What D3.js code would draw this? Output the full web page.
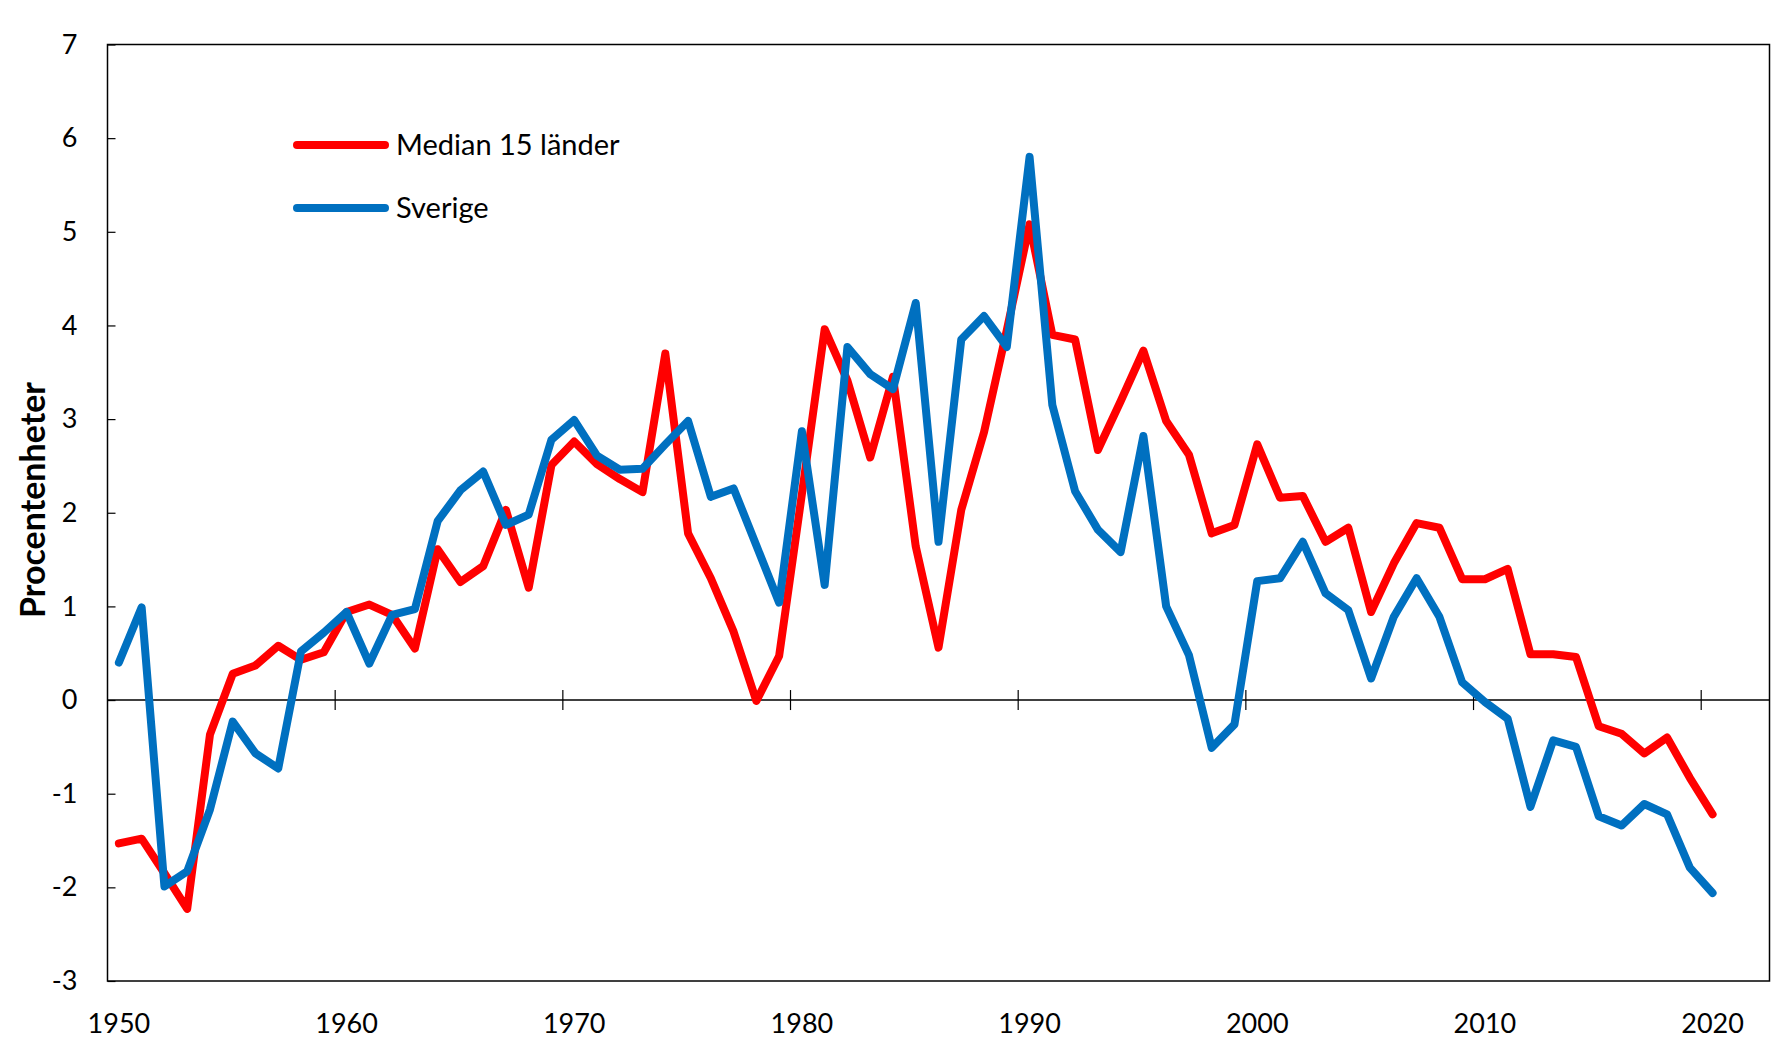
<!DOCTYPE html>
<html>
<head>
<meta charset="utf-8">
<script src="https://cdn.jsdelivr.net/npm/d3@7"></script>
<style>
  body { margin: 0; background: #fff; }
  text { font-family: Lato, "Open Sans", sans-serif; fill: #000; }
</style>
</head>
<body>
<svg id="chart" width="1782" height="1056"></svg>
<script>
  // kategorier 1950-2022 (de två sista är tomma)
  var years = d3.range(1950, 2023);
  var labelYears = [1950, 1960, 1970, 1980, 1990, 2000, 2010, 2020];
  var yTicks = [-3, -2, -1, 0, 1, 2, 3, 4, 5, 6, 7];

  var median = [-1.53, -1.48, -1.85, -2.23, -0.37, 0.28, 0.37, 0.58, 0.43, 0.51,
    0.94, 1.02, 0.91, 0.55, 1.61, 1.26, 1.43, 2.03, 1.20, 2.51,
    2.76, 2.52, 2.36, 2.22, 3.70, 1.78, 1.30, 0.73, -0.01, 0.47,
    2.20, 3.96, 3.41, 2.59, 3.45, 1.64, 0.56, 2.03, 2.86, 3.95,
    5.08, 3.90, 3.85, 2.67, 3.19, 3.73, 2.98, 2.62, 1.78, 1.87,
    2.73, 2.16, 2.18, 1.69, 1.84, 0.94, 1.46, 1.89, 1.84, 1.29,
    1.29, 1.40, 0.49, 0.49, 0.46, -0.28, -0.36, -0.57, -0.40, -0.83,
    -1.22];
  var sverige = [0.40, 0.99, -1.99, -1.83, -1.17, -0.23, -0.57, -0.73, 0.52, 0.72,
    0.94, 0.39, 0.91, 0.97, 1.91, 2.24, 2.44, 1.87, 1.98, 2.78,
    2.99, 2.61, 2.46, 2.47, 2.73, 2.98, 2.17, 2.26, 1.65, 1.04,
    2.87, 1.23, 3.77, 3.48, 3.32, 4.24, 1.69, 3.85, 4.10, 3.77,
    5.80, 3.15, 2.23, 1.82, 1.58, 2.82, 1.00, 0.48, -0.51, -0.26,
    1.27, 1.30, 1.69, 1.14, 0.96, 0.23, 0.89, 1.30, 0.89, 0.19,
    -0.02, -0.20, -1.14, -0.43, -0.50, -1.24, -1.34, -1.11, -1.22, -1.79,
    -2.06];

  var series = [
    {name: "Median 15 länder", values: median, color: "#ff0000"},
    {name: "Sverige", values: sverige, color: "#0070c0"}
  ];

  var svg = d3.select("#chart");
  var plotLeft = 107.5, plotRight = 1769.5, plotTop = 44.5, plotBottom = 981;

  var x = d3.scaleBand().domain(years).range([plotLeft, plotRight]).padding(0);
  var y = d3.scaleLinear().domain([-3, 7]).range([plotBottom, plotTop]);
  var bw = x.bandwidth();

  // y-axel med ticks inåt, vanligt bindestreck som minus
  var yAxis = d3.axisLeft(y).tickValues(yTicks).tickSize(-8).tickPadding(30)
    .tickFormat(function(d) { return String(d); });
  var gy = svg.append("g").attr("transform", "translate(" + plotLeft + ",0)").call(yAxis);
  gy.select(".domain").remove();
  gy.selectAll(".tick line").attr("stroke", "#000").attr("stroke-width", 1.2);
  gy.selectAll("text").attr("font-size", "27px").attr("font-family", "Lato").attr("fill", "#000");

  // ram
  svg.append("rect")
    .attr("x", plotLeft).attr("y", plotTop)
    .attr("width", plotRight - plotLeft).attr("height", plotBottom - plotTop)
    .attr("fill", "none").attr("stroke", "#000").attr("stroke-width", 1.5);

  // x-axel vid noll
  svg.append("line")
    .attr("x1", plotLeft).attr("x2", plotRight)
    .attr("y1", y(0)).attr("y2", y(0))
    .attr("stroke", "#000").attr("stroke-width", 1.5);

  svg.selectAll(".xtick")
    .data(labelYears.filter(function(d) { return d > 1950; }))
    .enter().append("line")
    .attr("class", "xtick")
    .attr("x1", function(d) { return x(d); })
    .attr("x2", function(d) { return x(d); })
    .attr("y1", y(0) - 10).attr("y2", y(0) + 10)
    .attr("stroke", "#000").attr("stroke-width", 1.2);

  svg.selectAll(".xlabel")
    .data(labelYears)
    .enter().append("text")
    .attr("class", "xlabel")
    .attr("x", function(d) { return x(d) + bw / 2; })
    .attr("y", 1033)
    .attr("text-anchor", "middle")
    .attr("font-size", "27px")
    .text(function(d) { return d; });

  // y-titel
  svg.append("text")
    .attr("transform", "translate(45,500) rotate(-90)")
    .attr("text-anchor", "middle")
    .attr("font-size", "34px")
    .attr("font-weight", "bold")
    .text("Procentenheter");

  // linjer
  var line = d3.line()
    .x(function(d, i) { return x(years[i]) + bw / 2; })
    .y(function(d) { return y(d); });

  series.forEach(function(s) {
    svg.append("path")
      .datum(s.values)
      .attr("d", line)
      .attr("fill", "none")
      .attr("stroke", s.color)
      .attr("stroke-width", 8)
      .attr("stroke-linejoin", "round")
      .attr("stroke-linecap", "round");
  });

  // legend
  var legend = svg.append("g").attr("transform", "translate(297,145)");
  series.forEach(function(s, i) {
    var g = legend.append("g").attr("transform", "translate(0," + i * 63 + ")");
    g.append("line")
      .attr("x1", 0).attr("x2", 88)
      .attr("stroke", s.color).attr("stroke-width", 8)
      .attr("stroke-linecap", "round");
    g.append("text")
      .attr("x", 99).attr("y", 10)
      .attr("font-size", "29px")
      .text(s.name);
  });
</script>
</body>
</html>
